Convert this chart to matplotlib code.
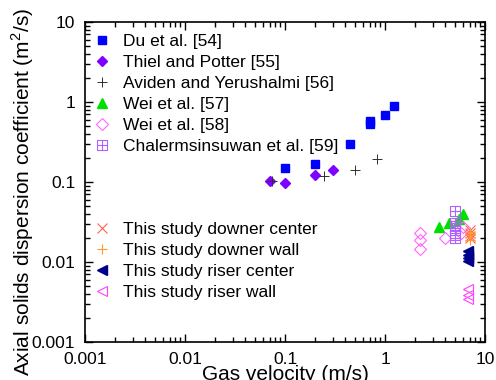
import numpy as np
import matplotlib
matplotlib.use("Agg")
import matplotlib.pyplot as plt
from matplotlib.path import Path
from matplotlib.ticker import LogLocator, NullFormatter, FixedFormatter, FixedLocator

plt.rcParams.update({'font.family': ['Liberation Sans', 'DejaVu Sans'],
                     'font.size': 12.5,
                     'mathtext.fontset': 'custom',
                     'mathtext.rm': 'Liberation Sans'})

# literature data
du_x = [0.1, 0.2, 0.45, 0.71, 0.71, 1.0, 1.24]
du_y = [0.148, 0.168, 0.296, 0.584, 0.531, 0.695, 0.883]
thiel_x = [0.071, 0.1, 0.2, 0.3]
thiel_y = [0.103, 0.096, 0.121, 0.140]
aviden_x = [0.074, 0.247, 0.505, 0.838]
aviden_y = [0.103, 0.120, 0.140, 0.196]
wei57_x = [3.5, 4.4, 5.5, 6.0]
wei57_y = [0.0277, 0.0305, 0.0341, 0.0398]
wei58_x = [2.24, 2.24, 2.24, 3.98, 5.8, 6.0]
wei58_y = [0.0233, 0.0190, 0.0144, 0.0198, 0.0230, 0.0275]
chal_x = [5.0, 5.0, 5.0, 5.0, 5.0, 5.0]
chal_y = [0.044, 0.031, 0.028, 0.025, 0.022, 0.020]

# this study
dc_x = [7.0, 7.0, 7.0, 7.0]
dc_y = [0.025, 0.023, 0.021, 0.020]
dw_x = [7.0, 7.0, 7.0, 7.0]
dw_y = [0.024, 0.022, 0.0205, 0.019]
rc_x = [6.8, 6.8, 6.8, 6.8]
rc_y = [0.0139, 0.0124, 0.0113, 0.0104]
rw_x = [6.8, 6.8, 6.8]
rw_y = [0.0046, 0.0039, 0.0034]

# square with a cross inside
box_plus = Path([(-1, -1), (1, -1), (1, 1), (-1, 1), (-1, -1),
                 (-1, 0), (1, 0), (0, -1), (0, 1)],
                [Path.MOVETO, Path.LINETO, Path.LINETO, Path.LINETO, Path.LINETO,
                 Path.MOVETO, Path.LINETO, Path.MOVETO, Path.LINETO])

fig = plt.figure(figsize=(4.96, 3.8), dpi=100)
ax = fig.add_axes([85/496, 1-342/380, 400/496, 320/380])

h1 = [
    ax.plot(du_x, du_y, 's', color='#0000ff', ms=6, ls='none', label='Du et al. [54]')[0],
    ax.plot(thiel_x, thiel_y, 'D', color='#8000ff', ms=5.5, ls='none', label='Thiel and Potter [55]')[0],
    ax.plot(aviden_x, aviden_y, '+', color='#303030', ms=7.5, mew=0.7, ls='none', label='Aviden and Yerushalmi [56]')[0],
    ax.plot(wei57_x, wei57_y, '^', color='#00e000', ms=7.5, ls='none', label='Wei et al. [57]')[0],
    ax.plot(wei58_x, wei58_y, 'D', mfc='none', mec='#ff66ff', ms=6, mew=0.8, ls='none', label='Wei et al. [58]')[0],
    ax.plot(chal_x, chal_y, marker=box_plus, mfc='none', mec='#b060ff', ms=6.5, mew=0.8, ls='none', label='Chalermsinsuwan et al. [59]')[0],
]
h2 = [
    ax.plot(dc_x, dc_y, 'x', color='#ff6050', ms=7, mew=0.8, ls='none', label='This study downer center')[0],
    ax.plot(dw_x, dw_y, '+', color='#ff9a30', ms=7.5, mew=0.8, ls='none', label='This study downer wall')[0],
    ax.plot(rc_x, rc_y, '<', color='#00008b', ms=7, ls='none', label='This study riser center')[0],
    ax.plot(rw_x, rw_y, '<', mfc='none', mec='#ff40ff', ms=7.5, mew=0.8, ls='none', label='This study riser wall')[0],
]

ax.set_xscale('log')
ax.set_yscale('log')
ax.set_xlim(0.001, 10)
ax.set_ylim(0.001, 10)

xt = [0.001, 0.01, 0.1, 1, 10]
xt_labels = ['0.001', '0.01', '0.1', '1', '10']
ax.xaxis.set_major_locator(FixedLocator(xt))
ax.xaxis.set_major_formatter(FixedFormatter(xt_labels))
ax.yaxis.set_major_locator(FixedLocator(xt))
ax.yaxis.set_major_formatter(FixedFormatter(xt_labels))
for a in (ax.xaxis, ax.yaxis):
    a.set_minor_locator(LogLocator(base=10, subs=np.arange(2, 10)))
    a.set_minor_formatter(NullFormatter())
ax.tick_params(which='both', direction='in', top=True, right=True, labelsize=12.5)
ax.tick_params(which='major', length=6, width=1.0, pad=7)
ax.tick_params(which='minor', length=3.5, width=1.0)
for s in ax.spines.values():
    s.set_linewidth(1.2)

ax.set_xlabel('Gas velocity (m/s)', fontsize=15, labelpad=-1)
ax.set_ylabel('Axial solids dispersion coefficient (m$^2$/s)', fontsize=15, labelpad=-3)
ax.yaxis.label.set_y(0.47)

leg1 = ax.legend(handles=h1, loc='upper left', frameon=False, fontsize=12.5,
                 handlelength=1.0, handletextpad=0.7, labelspacing=0.33,
                 borderaxespad=0.1, bbox_to_anchor=(0.0, 0.989))
ax.add_artist(leg1)
ax.legend(handles=h2, loc='upper left', frameon=False, fontsize=12.5,
          handlelength=1.0, handletextpad=0.7, labelspacing=0.33,
          borderaxespad=0.1, bbox_to_anchor=(0.0, 0.402))

fig.savefig('out.png', dpi=100)
